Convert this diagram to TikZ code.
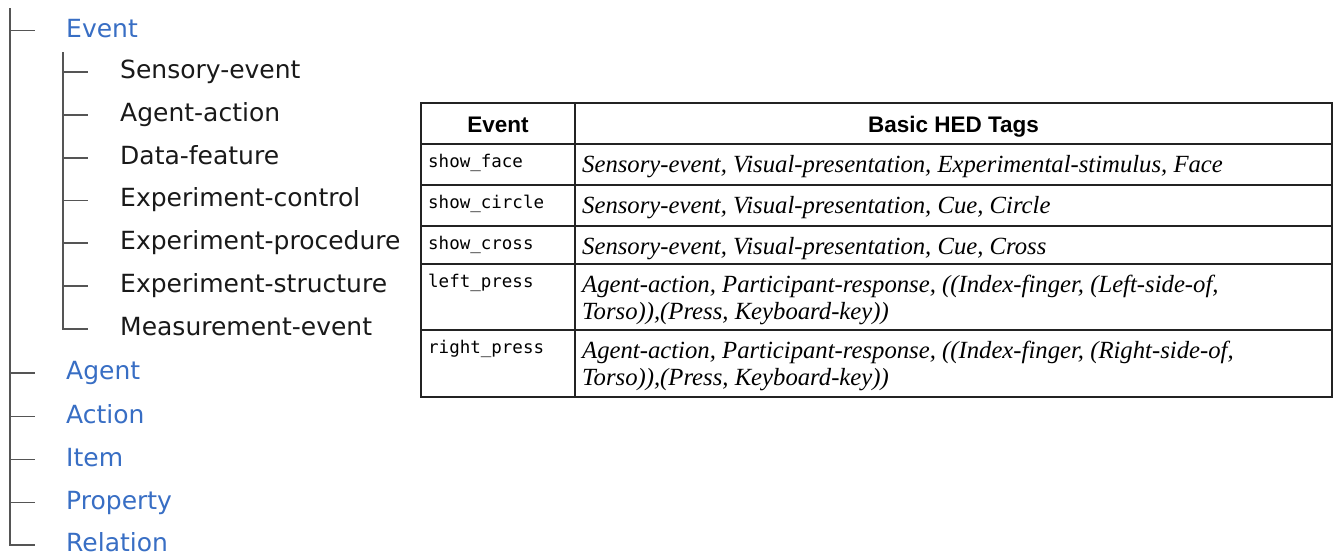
\documentclass[tikz,border=0pt]{standalone}
\usepackage{fontspec}
\setmainfont{Liberation Serif}
\setsansfont{DejaVu Sans}
\setmonofont{DejaVu Sans Mono}
\newfontfamily\headfont{Liberation Sans}
\usetikzlibrary{positioning}
\definecolor{tagblue}{RGB}{56,110,196}
\definecolor{treegray}{RGB}{85,85,85}
\definecolor{tableline}{RGB}{35,35,35}

\begin{document}
\begin{tikzpicture}[x=1pt, y=-1pt, inner sep=0pt,
  tag/.style={anchor=base west, font=\sffamily\fontsize{25}{30}\selectfont, text height=19pt, text depth=6pt},
  toptag/.style={tag, text=tagblue},
  subtag/.style={tag, text=black!90},
  branch/.style={draw=treegray, line width=1.8pt},
  cell/.style={draw=tableline, line width=2.2pt},
  head/.style={anchor=base, font=\headfont\bfseries\fontsize{22.5}{26}\selectfont},
  code/.style={anchor=base west, font=\ttfamily\fontsize{17.5}{20}\selectfont},
  hed/.style={anchor=base west, font=\itshape\fontsize{24.7}{27}\selectfont, align=left}]
	\useasboundingbox (0,0) rectangle (1337,558);
	\coordinate (root) at (10,8);
	\coordinate (subroot) at (63,52);
	\node[toptag] (event) at (66,37) {Event};
	\node[subtag] (sensory) at (120,78.5) {Sensory-event};
	\node[subtag] (agentact) at (120,121.3) {Agent-action};
	\node[subtag] (datafeat) at (120,164.1) {Data-feature};
	\node[subtag] (expcontrol) at (120,206.9) {Experiment-control};
	\node[subtag] (expproc) at (120,249.7) {Experiment-procedure};
	\node[subtag] (expstruct) at (120,292.5) {Experiment-structure};
	\node[subtag] (measure) at (120,335.3) {Measurement-event};
	\node[toptag] (agent) at (66,379.5) {Agent};
	\node[toptag] (action) at (66,423) {Action};
	\node[toptag] (item) at (66,466) {Item};
	\node[toptag] (property) at (66,509) {Property};
	\node[toptag] (relation) at (66,551.5) {Relation};
	\draw[branch] (root) -- (root |- relation.west) -- ([xshift=-31pt]relation.west);
	\foreach \n in {event,agent,action,item,property}
	  \draw[branch] (root |- \n.west) -- ([xshift=-31pt]\n.west);
	\draw[branch] (subroot) -- (subroot |- measure.west) -- ([xshift=-32pt]measure.west);
	\foreach \n in {sensory,agentact,datafeat,expcontrol,expproc,expstruct}
	  \draw[branch] (subroot |- \n.west) -- ([xshift=-32pt]\n.west);
	\draw[cell] (421,103) rectangle (1332,397);
	\draw[cell] (575,103) -- (575,397);
	\foreach \y in {144,185,226,264,330}
	  \draw[cell] (421,\y) -- (1332,\y);
	\node[head] (hevent) at (498,132) {Event};
	\node[head] (htags) at (953.5,132) {Basic HED Tags};
	\node[code] (face) at (428,167) {show\_face};
	\node[hed] (facetags) at (582,172) {Sensory-event, Visual-presentation, Experimental-stimulus, Face};
	\node[code] (circle) at (428,208) {show\_circle};
	\node[hed] (circletags) at (582,213) {Sensory-event, Visual-presentation, Cue, Circle};
	\node[code] (cross) at (428,249) {show\_cross};
	\node[hed] (crosstags) at (582,254) {Sensory-event, Visual-presentation, Cue, Cross};
	\node[code] (lpress) at (428,287) {left\_press};
	\node[hed] (lpresstags) at (582,319) {Agent-action, Participant-response, ((Index-finger, (Left-side-of,\\Torso)),(Press, Keyboard-key))};
	\node[code] (rpress) at (428,353) {right\_press};
	\node[hed] (rpresstags) at (582,385) {Agent-action, Participant-response, ((Index-finger, (Right-side-of,\\Torso)),(Press, Keyboard-key))};
\end{tikzpicture}
\end{document}
